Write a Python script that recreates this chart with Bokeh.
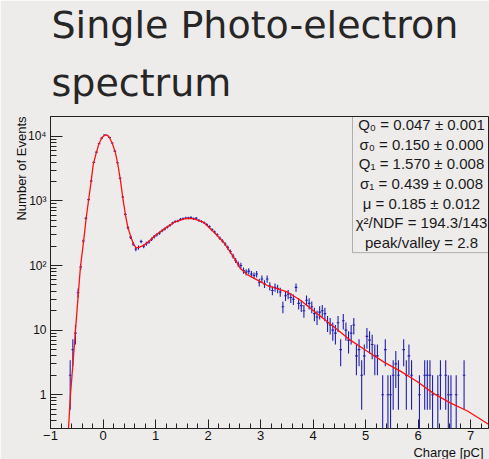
import math
from bokeh.plotting import figure
from bokeh.models import Range1d, FixedTicker, SingleIntervalTicker, Label, BoxAnnotation, ColumnDataSource, Title
from bokeh.embed import file_html
from bokeh.resources import INLINE

# ---------------- data ----------------
bins_x = [-0.625, -0.575, -0.525, -0.475, -0.425, -0.375, -0.325, -0.275, -0.225, -0.175,
          -0.125, -0.075, -0.025, 0.025, 0.075, 0.125, 0.175, 0.225, 0.275, 0.325,
          0.375, 0.425, 0.475, 0.525, 0.575, 0.625, 0.675, 0.725, 0.775, 0.825,
          0.875, 0.925, 0.975, 1.025, 1.075, 1.125, 1.175, 1.225, 1.275, 1.325,
          1.375, 1.425, 1.475, 1.525, 1.575, 1.625, 1.675, 1.725, 1.775, 1.825,
          1.875, 1.925, 1.975, 2.025, 2.075, 2.125, 2.175, 2.225, 2.275, 2.325,
          2.375, 2.425, 2.475, 2.525, 2.575, 2.625, 2.675, 2.725, 2.775, 2.825,
          2.875, 2.925, 2.975, 3.025, 3.075, 3.125, 3.175, 3.225, 3.275, 3.325,
          3.375, 3.425, 3.475, 3.525, 3.575, 3.625, 3.675, 3.725, 3.775, 3.825,
          3.875, 3.925, 3.975, 4.025, 4.075, 4.125, 4.175, 4.225, 4.275, 4.325,
          4.375, 4.425, 4.475, 4.525, 4.575, 4.625, 4.675, 4.725, 4.775, 4.825,
          4.875, 4.925, 4.975, 5.025, 5.075, 5.125, 5.175, 5.225, 5.325, 5.375,
          5.425, 5.475, 5.525, 5.575, 5.625, 5.725, 5.775, 5.825, 5.875, 6.025,
          6.125, 6.175, 6.225, 6.275, 6.375, 6.425, 6.525, 6.575, 6.625, 6.725,
          6.875]
counts = [2, 5, 9, 38, 95, 240, 540, 1050, 2040, 3950,
          5700, 7700, 9400, 10500, 10400, 9600, 7900, 5900, 3900, 2250,
          1150, 620, 385, 275, 215, 180, 190, 236, 200, 218,
          232, 255, 280, 300, 318, 345, 368, 395, 420, 455,
          480, 490, 520, 530, 545, 545, 555, 530, 540, 500,
          480, 460, 430, 400, 360, 330, 300, 265, 240, 215,
          190, 165, 140, 120, 105, 100, 84, 79, 82, 74,
          70, 74, 55, 62, 52, 62, 48, 41, 46, 44,
          39, 23, 34, 36, 32, 30, 46, 26, 24, 20,
          29, 26, 23, 18, 16, 19, 20, 18, 13, 12,
          10, 9, 13, 5, 14, 10, 7, 9, 12, 4,
          5, 2, 4, 8, 7, 6, 4, 4, 1, 5,
          1, 1, 2, 3, 2, 5, 2, 4, 2, 1,
          2, 2, 2, 1, 1, 2, 2, 1, 1, 1,
          2]
bin_width = 0.05

fit_x = [-0.657, -0.62, -0.57, -0.524, -0.475, -0.43, -0.365, -0.32, -0.27, -0.225,
         -0.187, -0.13, -0.08, -0.016, 0.048, 0.11, 0.175, 0.238, 0.283, 0.333,
         0.378, 0.43, 0.473, 0.537, 0.587, 0.632, 0.683, 0.76, 0.873, 0.987,
         1.16, 1.35, 1.54, 1.635, 1.73, 1.92, 2.11, 2.30, 2.49, 2.62,
         2.75, 2.87, 3.13, 3.51, 3.76, 4.08, 4.40, 4.71, 5.03, 5.35,
         5.67, 5.98, 6.30, 6.62, 6.94, 7.34]
fit_y = [0.3, 1.0, 3.2, 10, 33, 95, 257, 550, 1100, 2040,
         3650, 5500, 7600, 9660, 10600, 10000, 7900, 5500, 3650, 2040,
         1100, 590, 390, 267, 210, 187, 191, 203, 236, 290,
         366, 465, 527, 540, 527, 465, 330, 228, 134, 89,
         72, 64, 49, 39, 29, 18, 11.2, 7.0, 4.7, 3.2,
         2.3, 1.6, 1.04, 0.74, 0.56, 0.35]

y_ticks = [1, 10, 100, 1000, 10000]
y_tick_labels = ["1", "10", "10²", "10³", "10⁴"]

stats_lines = ["Q₀ = 0.047 ± 0.001",
               "σ₀ = 0.150 ± 0.000",
               "Q₁ = 1.570 ± 0.008",
               "σ₁ = 0.439 ± 0.008",
               "μ = 0.185 ± 0.012",
               "χ²/NDF = 194.3/143",
               "peak/valley = 2.8"]

title_lines = ["Single Photo-electron", "spectrum"]
x_title = "Charge [pC]"
y_title = "Number of Events"

# ---------------- layout ----------------
W, H = 489, 459
FL, FR, FT, FB = 50, 488, 115, 429
X0, X1 = -1.0, 7.34
Y0, Y1 = 0.3, 20300.0
BG = "#eeeceb"
INK = "#111111"

def dx(px):
    return X0 + (px - FL) * (X1 - X0) / (FR - FL)

def dy(py):
    l0, l1 = math.log10(Y0), math.log10(Y1)
    return 10 ** (l1 - (py - FT) * (l1 - l0) / (FB - FT))

p = figure(width=W, height=H, x_range=Range1d(X0, X1), y_range=Range1d(Y0, Y1),
           y_axis_type="log", output_backend="svg", toolbar_location=None, title=None,
           min_border_left=FL, min_border_right=W - FR, min_border_top=FT,
           min_border_bottom=H - FB)
p.background_fill_color = BG
p.border_fill_color = BG
p.outline_line_color = "#222222"
p.outline_line_width = 1
p.grid.visible = False

# axes
for ax in (p.xaxis, p.yaxis):
    ax.axis_line_color = "#222222"
    ax.major_tick_line_color = "#222222"
    ax.minor_tick_line_color = "#222222"
    ax.major_tick_out = 0
    ax.minor_tick_out = 0
    ax.major_label_text_font = "Liberation Sans"
    ax.major_label_text_font_size = "13px"
    ax.major_label_text_color = INK

p.xaxis.ticker = SingleIntervalTicker(interval=1, num_minor_ticks=5)
p.xaxis.major_tick_in = 9
p.xaxis.minor_tick_in = 5
p.xaxis.major_label_standoff = 2
p.xaxis.major_label_overrides = {-1: "−1"}

minor = []
for dec in [0.1, 1, 10, 100, 1000, 10000]:
    for k in range(2, 10):
        v = k * dec
        if Y0 <= v <= Y1:
            minor.append(v)
p.yaxis.ticker = FixedTicker(ticks=y_ticks, minor_ticks=minor)
p.yaxis.major_label_overrides = {t: s for t, s in zip(y_ticks, y_tick_labels)}
p.yaxis.major_label_text_font_size = "12px"
p.yaxis.major_tick_in = 12
p.yaxis.minor_tick_in = 6
p.yaxis.major_label_standoff = 4

# data error bars
errs = [math.sqrt(c) for c in counts]
lo = [c - e if c - e > 0 else 1e-3 for c, e in zip(counts, errs)]
hi = [c + e for c, e in zip(counts, errs)]
src = ColumnDataSource(dict(x=bins_x, y=counts, lo=lo, hi=hi,
                            xl=[x - bin_width / 2 for x in bins_x],
                            xr=[x + bin_width / 2 for x in bins_x]))
blue = "#1f1fb0"
p.segment(x0="x", y0="lo", x1="x", y1="hi", source=src, line_color=blue, line_width=1.1)
p.segment(x0="xl", y0="y", x1="xr", y1="y", source=src, line_color=blue, line_width=1.1)

# fit curve
p.line(fit_x, fit_y, line_color="#ff1010", line_width=1.3)

# stats box
p.add_layout(BoxAnnotation(left=dx(352), right=X1, top=Y1, bottom=dy(252),
                           fill_alpha=0, line_color="#222222", line_width=1))
for i, s in enumerate(stats_lines):
    p.add_layout(Label(x=dx(421), y=dy(123 + 19.8 * i), text=s, text_align="center",
                       text_baseline="middle", text_font="Liberation Sans",
                       text_font_size="15px", text_color="#1a1a1a"))

# axis titles (as side titles so they are not clipped by the frame)
p.add_layout(Title(text=x_title, align="right", text_font="Liberation Sans",
                   text_font_size="13px", text_font_style="normal", text_color=INK,
                   standoff=0, offset=5), "below")
p.add_layout(Title(text=y_title, align="right", text_font="Liberation Sans",
                   text_font_size="13px", text_font_style="normal", text_color=INK,
                   standoff=-8, offset=0), "left")

# slide title (second line closest to the frame)
p.add_layout(Title(text=title_lines[1], align="left", text_font="DejaVu Sans",
                   text_font_size="38px", text_font_style="normal", text_color="#262626",
                   standoff=24, offset=1), "above")
p.add_layout(Title(text=title_lines[0], align="left", text_font="DejaVu Sans",
                   text_font_size="38px", text_font_style="normal", text_color="#262626",
                   standoff=0, offset=1), "above")

open("out.html", "w").write(file_html(p, INLINE))
